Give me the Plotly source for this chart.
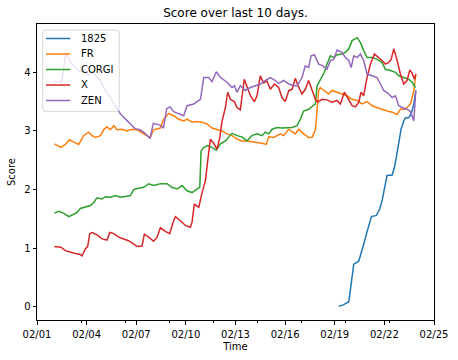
import pandas as pd
import plotly.graph_objects as go

BASE = pd.Timestamp("2023-02-01")

# day offsets from 02/01 and score values, per series
s1825_days = [18.24, 18.54, 18.85, 18.99, 19.15, 19.45, 19.59, 19.75, 19.92, 20.06, 20.22, 20.52, 20.72, 20.86,
              21.02, 21.16, 21.47, 21.61, 21.77, 21.87, 22.01, 22.17, 22.27, 22.48, 22.62, 22.78, 22.90]
s1825_vals = [0.01, 0.04, 0.09, 0.39, 0.73, 0.78, 0.90, 1.07, 1.25, 1.41, 1.54, 1.56, 1.67, 1.81,
              2.01, 2.24, 2.25, 2.38, 2.63, 2.83, 3.03, 3.17, 3.22, 3.23, 3.29, 3.46, 3.69]

fr_days = [1.05, 1.21, 1.45, 1.71, 1.96, 2.22, 2.52, 2.82, 3.12, 3.33, 3.53, 3.83, 4.03, 4.23, 4.44, 4.64, 4.84,
           5.14, 5.44, 5.75, 6.05, 6.45, 6.85, 7.05, 7.46, 7.66, 7.96, 8.26, 8.57, 8.87, 9.07, 9.37, 9.67, 9.98,
           10.28, 10.58, 10.88, 11.19, 11.49, 11.79, 12.09, 12.39, 12.69, 12.99, 13.30, 13.60, 13.86, 14.01,
           14.31, 14.51, 14.71, 14.91, 15.22, 15.42, 15.62, 15.82, 16.12, 16.42, 16.63, 16.83, 16.93, 17.03,
           17.13, 17.33, 17.63, 17.84, 18.14, 18.44, 18.74, 19.05, 19.35, 19.65, 19.95, 20.26, 20.56, 20.86,
           21.16, 21.47, 21.77, 21.97, 22.27, 22.58, 22.78, 22.90]
fr_vals = [2.78, 2.75, 2.72, 2.77, 2.85, 2.81, 2.77, 2.92, 2.98, 2.92, 2.89, 2.92, 3.02, 3.07, 3.02, 3.09, 3.02,
           3.03, 3.00, 3.03, 3.02, 2.95, 2.89, 3.02, 3.05, 3.20, 3.30, 3.26, 3.20, 3.17, 3.20, 3.15, 3.16, 3.15,
           3.12, 3.05, 3.03, 3.00, 2.95, 2.92, 2.86, 2.83, 2.83, 2.82, 2.80, 2.79, 2.77, 2.90,
           2.89, 2.92, 2.95, 2.92, 3.03, 2.99, 2.95, 3.03, 2.95, 2.89, 2.89, 3.02, 3.34, 3.69,
           3.74, 3.69, 3.63, 3.69, 3.66, 3.62, 3.60, 3.54, 3.52, 3.46, 3.50, 3.43, 3.40, 3.36,
           3.34, 3.32, 3.28, 3.37, 3.37, 3.46, 3.69, 3.97]

corgi_days = [1.05, 1.31, 1.61, 1.92, 2.22, 2.42, 2.62, 2.92, 3.23, 3.43, 3.63, 3.93, 4.13, 4.44, 4.74, 5.04,
              5.34, 5.65, 5.85, 6.05, 6.45, 6.75, 7.05, 7.46, 7.86, 8.16, 8.47, 8.77, 9.07, 9.37, 9.67, 9.84,
              9.92, 10.08, 10.32, 10.58, 10.84, 11.09, 11.39, 11.59, 11.79, 12.09, 12.39, 12.69, 12.99, 13.30,
              13.60, 13.80, 14.01, 14.21, 14.51, 14.81, 15.11, 15.42, 15.72, 15.92, 16.12, 16.42, 16.69, 16.83,
              16.93, 17.13, 17.37, 17.53, 17.74, 17.94, 18.14, 18.44, 18.64, 18.85, 19.05, 19.35, 19.55, 19.75,
              19.95, 20.26, 20.56, 20.86, 21.06, 21.37, 21.67, 21.87, 22.17, 22.48, 22.68, 22.88]
corgi_vals = [1.60, 1.63, 1.60, 1.54, 1.58, 1.61, 1.68, 1.71, 1.73, 1.78, 1.86, 1.84, 1.88, 1.87, 1.90, 1.87,
              1.88, 1.90, 2.00, 2.02, 2.04, 2.10, 2.07, 2.10, 2.10, 2.04, 2.01, 2.07, 1.98, 1.95, 2.01, 2.04,
              2.66, 2.72, 2.75, 2.72, 2.67, 2.78, 2.83, 2.89, 2.96, 2.92, 2.90, 2.83, 2.92, 2.95,
              2.92, 2.98, 2.95, 3.03, 3.06, 3.05, 3.06, 3.06, 3.09, 3.20, 3.34, 3.37, 3.43, 3.46,
              3.77, 3.88, 4.00, 4.14, 4.28, 4.25, 4.30, 4.31, 4.34, 4.40, 4.54, 4.59, 4.51, 4.37,
              4.25, 4.25, 4.22, 4.17, 4.05, 4.03, 4.00, 3.94, 3.91, 3.88, 3.83, 3.74]

x_days = [1.05, 1.45, 1.71, 2.02, 2.32, 2.58, 2.72, 2.92, 3.06, 3.19, 3.33, 3.63, 3.93, 4.23, 4.40, 4.64, 4.94,
          5.24, 5.54, 5.85, 6.05, 6.35, 6.49, 6.75, 7.05, 7.26, 7.46, 7.76, 8.02, 8.26, 8.37, 8.67, 8.97, 9.27,
          9.37, 9.51, 9.78, 9.98, 10.18, 10.32, 10.48, 10.68, 10.88, 11.05, 11.19, 11.39, 11.53, 11.69, 11.93,
          12.09, 12.29, 12.53, 12.69, 12.90, 13.14, 13.30, 13.50, 13.70, 13.90, 14.11, 14.35, 14.61, 14.81,
          15.01, 15.22, 15.42, 15.62, 15.78, 16.02, 16.22, 16.42, 16.63, 16.83, 16.97, 17.23, 17.53, 17.84,
          18.14, 18.34, 18.58, 18.85, 19.05, 19.25, 19.45, 19.59, 19.75, 19.95, 20.16, 20.40, 20.66, 20.86,
          21.06, 21.27, 21.41, 21.57, 21.77, 21.97, 22.17, 22.37, 22.54, 22.68, 22.82, 22.90]
x_vals = [1.03, 1.02, 0.96, 0.93, 0.91, 0.90, 0.87, 0.99, 1.03, 1.25, 1.27, 1.23, 1.16, 1.14, 1.27, 1.25, 1.19,
          1.16, 1.13, 1.07, 1.03, 1.04, 1.24, 1.19, 1.12, 1.19, 1.35, 1.29, 1.25, 1.47, 1.54, 1.47, 1.39, 1.36,
          1.44, 1.75, 1.70, 1.95, 2.15, 2.49, 2.86, 2.79, 2.69, 2.89, 3.17, 3.40, 3.66, 3.54, 3.50,
          3.40, 3.36, 3.88, 3.77, 3.60, 3.50, 3.60, 3.94, 3.82, 3.85, 3.71, 3.80, 3.74, 3.57,
          3.50, 3.69, 3.71, 3.90, 3.77, 3.63, 3.71, 3.86, 3.71, 3.54, 3.49, 3.54, 3.53, 3.49,
          3.52, 3.46, 3.66, 3.52, 3.43, 3.41, 3.49, 3.66, 3.60, 3.91, 4.14, 4.31, 4.25, 4.20,
          4.14, 4.17, 4.22, 4.40, 4.20, 3.97, 3.80, 3.86, 4.04, 3.98, 3.88, 3.97]

zen_days = [1.05, 1.19, 1.49, 1.75, 2.00, 2.30, 2.60, 2.90, 3.10, 3.40, 3.61, 3.81, 4.11, 4.41, 4.72, 5.02, 5.32,
            5.62, 5.93, 6.23, 6.53, 6.83, 7.03, 7.44, 7.64, 7.84, 8.04, 8.26, 8.57, 8.87, 9.07, 9.47, 9.88,
            10.08, 10.38, 10.58, 10.84, 11.09, 11.49, 11.79, 11.93, 12.09, 12.29, 12.59, 12.90, 13.20, 13.50,
            13.80, 14.11, 14.41, 14.61, 14.91, 15.22, 15.52, 15.72, 16.02, 16.22, 16.42, 16.57, 16.77, 17.03,
            17.29, 17.53, 17.74, 17.94, 18.14, 18.44, 18.64, 18.85, 18.99, 19.15, 19.35, 19.55, 19.75, 19.95,
            20.26, 20.56, 20.76, 20.96, 21.27, 21.47, 21.67, 21.87, 22.07, 22.37, 22.58, 22.78, 22.90]
zen_vals = [3.84, 3.84, 3.84, 4.33, 4.18, 4.09, 4.01, 4.04, 3.95, 4.01, 3.92, 3.87, 3.70, 3.58, 3.44, 3.30, 3.21,
            3.13, 3.04, 3.02, 2.96, 2.87, 3.13, 3.10, 3.05, 3.38, 3.41, 3.33, 3.29, 3.26, 3.43, 3.46, 3.54,
            3.91, 3.91, 3.84, 4.01, 3.91, 3.83, 3.74, 3.77, 3.66, 3.77, 3.69, 3.74, 3.77, 3.80,
            3.86, 3.91, 3.86, 3.81, 3.86, 3.80, 3.77, 3.77, 3.91, 4.11, 4.08, 4.28, 4.30, 4.14,
            4.11, 4.05, 4.20, 4.22, 4.38, 4.34, 4.25, 4.20, 4.08, 4.28, 4.25, 4.31, 4.20, 3.97,
            3.94, 3.91, 3.80, 3.69, 3.63, 3.57, 3.60, 3.43, 3.40, 3.37, 3.33, 3.17, 3.69]

names = ["1825", "FR", "CORGI", "X", "ZEN"]
colors = ["#1f77b4", "#ff7f0e", "#2ca02c", "#d62728", "#9467bd"]
series = [(s1825_days, s1825_vals), (fr_days, fr_vals), (corgi_days, corgi_vals),
          (x_days, x_vals), (zen_days, zen_vals)]

FONT = "DejaVu Sans"
fig = go.Figure()
for name, color, (d, v) in zip(names, colors, series):
    t = BASE + pd.to_timedelta(d, unit="D")
    fig.add_trace(go.Scatter(x=t, y=v, mode="lines", name=name,
                             line=dict(color=color, width=1.5), showlegend=False))

# plot area in pixels: left 37, right 434, top 24, bottom 320
W, H = 458, 360
L, R, T, B = 37, 434, 24, 320
def px(x):
    return (x - L) / (R - L)
def py(y):
    return (B - y) / (B - T)

# legend box with rounded corners (matplotlib style)
x0, x1 = px(42.7), px(119.3)
y0, y1 = py(111.3), py(30)
rx, ry = 3 / (R - L), 3 / (B - T)
path = (f"M {x0+rx},{y1} L {x1-rx},{y1} Q {x1},{y1} {x1},{y1-ry} L {x1},{y0+ry} "
        f"Q {x1},{y0} {x1-rx},{y0} L {x0+rx},{y0} Q {x0},{y0} {x0},{y0+ry} "
        f"L {x0},{y1-ry} Q {x0},{y1} {x0+rx},{y1} Z")
shapes = [dict(type="path", path=path, xref="paper", yref="paper", layer="above",
               fillcolor="rgba(255,255,255,0.8)", line=dict(color="rgba(204,204,204,0.8)", width=1))]
annotations = []
for i, (name, color) in enumerate(zip(names, colors)):
    yy = py(38.5 + 15.5 * i)
    shapes.append(dict(type="line", xref="paper", yref="paper", layer="above",
                       x0=px(46), x1=px(70.3), y0=yy, y1=yy, line=dict(color=color, width=1.5)))
    annotations.append(dict(text=name, xref="paper", yref="paper", x=px(79), y=yy,
                            xanchor="left", yanchor="middle", showarrow=False,
                            font=dict(family=FONT, size=10, color="black")))

fig.update_layout(
    width=W, height=H,
    margin=dict(l=L, r=W - R, t=T, b=H - B, pad=0, autoexpand=False),
    paper_bgcolor="white", plot_bgcolor="white",
    font=dict(family=FONT, size=10, color="black"),
    title=dict(text="Score over last 10 days.", x=0.5, xref="paper", y=1 - 13 / H, yref="container",
               xanchor="center", yanchor="middle", font=dict(family=FONT, size=12, color="black")),
    shapes=shapes, annotations=annotations,
    showlegend=False,
)
fig.update_xaxes(
    type="date", range=["2023-02-01", "2023-02-25"], automargin=False,
    tick0="2023-02-01", dtick=3 * 86400000, tickformat="%m/%d",
    ticks="outside", ticklen=3.5, tickwidth=1, tickcolor="black",
    minor=dict(tick0="2023-02-01", dtick=64 * 3600 * 1000, ticks="outside", ticklen=2,
               tickwidth=0.8, tickcolor="black", showgrid=False),
    showline=True, linecolor="black", linewidth=1, mirror=True,
    showgrid=False, zeroline=False, ticklabelstandoff=1,
    title=dict(text="Time", standoff=4, font=dict(family=FONT, size=10, color="black")),
    tickfont=dict(family=FONT, size=10, color="black"),
)
fig.update_yaxes(
    range=[-0.222, 4.823], tickvals=[0, 1, 2, 3, 4], automargin=False,
    ticks="outside", ticklen=3.5, tickwidth=1, tickcolor="black",
    showline=True, linecolor="black", linewidth=1, mirror=True,
    showgrid=False, zeroline=False,
    title=dict(text="Score", standoff=6, font=dict(family=FONT, size=10, color="black")),
    tickfont=dict(family=FONT, size=10, color="black"),
)

fig.write_html("out.html", config={"displayModeBar": False},
               post_script="document.body.style.margin='0';")
